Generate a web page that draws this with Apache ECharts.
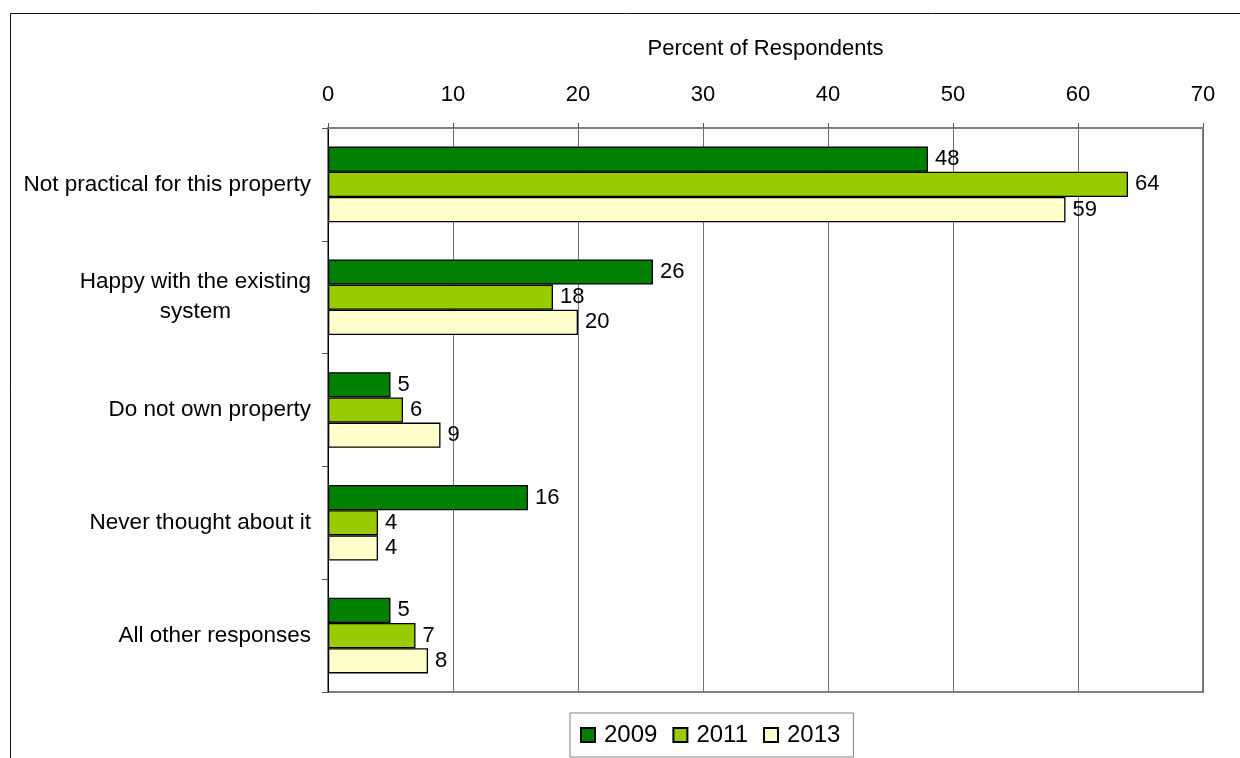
<!DOCTYPE html>
<html>
<head>
<meta charset="utf-8">
<script src="https://cdn.jsdelivr.net/npm/echarts@6/dist/echarts.min.js"></script>
<style>
  html, body { margin: 0; padding: 0; background: #fff; overflow: hidden; }
  #chart { width: 1240px; height: 758px; }
</style>
</head>
<body>
<div id="chart"></div>
<script>
// Reasons given, top to bottom
const categories = [
  'Not practical for this property',
  'Happy with the existing\nsystem',
  'Do not own property',
  'Never thought about it',
  'All other responses'
];
// Percent of respondents per survey year
const values2009 = [48, 26, 5, 16, 5];
const values2011 = [64, 18, 6, 4, 7];
const values2013 = [59, 20, 9, 4, 8];
const years = ['2009', '2011', '2013'];
const axisTicks = [0, 10, 20, 30, 40, 50, 60, 70];

const FONT = '"Liberation Sans", Arial, sans-serif';
const colors = ['#008000', '#99CC00', '#FFFFCC'];

const chart = echarts.init(document.getElementById('chart'), null, { renderer: 'canvas' });

function barSeries(name, data, color) {
  return {
    name: name,
    type: 'bar',
    data: data,
    barGap: '0%',
    barCategoryGap: '33%',
    itemStyle: { color: color, borderColor: '#000', borderWidth: 1.3 },
    label: {
      show: true,
      position: 'right',
      distance: 7,
      color: '#000',
      fontFamily: FONT,
      fontSize: 22
    },
    animation: false
  };
}

chart.setOption({
  backgroundColor: '#fff',
  animation: false,
  graphic: [
    // chart frame (left and top edges)
    { type: 'line', shape: { x1: 10.5, y1: 13.5, x2: 1240, y2: 13.5 }, style: { stroke: '#111', lineWidth: 1 } },
    { type: 'line', shape: { x1: 10.5, y1: 13.5, x2: 10.5, y2: 758 }, style: { stroke: '#111', lineWidth: 1 } }
  ],
  grid: {
    left: 328, top: 128, right: 37, bottom: 66,
    show: true,
    borderColor: '#808080',
    borderWidth: 2,
    backgroundColor: '#fff'
  },
  legend: {
    data: years,
    left: 570,
    top: 713,
    orient: 'horizontal',
    itemWidth: 14,
    itemHeight: 14,
    itemGap: 15,
    icon: 'rect',
    borderColor: '#808080',
    borderWidth: 1,
    padding: [10, 13, 10, 10],
    textStyle: { fontFamily: FONT, fontSize: 24, color: '#000', padding: [0, 0, 0, 4] }
  },
  xAxis: {
    type: 'value',
    position: 'top',
    min: 0,
    max: 70,
    interval: 10,
    name: 'Percent of Respondents',
    nameLocation: 'middle',
    nameGap: 68,
    nameTextStyle: { fontFamily: FONT, fontSize: 22, color: '#000' },
    axisLine: { show: true, lineStyle: { color: '#808080', width: 2 } },
    axisTick: { show: true, length: 5, lineStyle: { color: '#555' } },
    axisLabel: {
      fontFamily: FONT, fontSize: 22, color: '#000', margin: 22,
      formatter: function (v) { return axisTicks.indexOf(v) >= 0 ? String(v) : ''; }
    },
    splitLine: { show: true, lineStyle: { color: '#707070', width: 1 } }
  },
  yAxis: {
    type: 'category',
    data: categories,
    inverse: true,
    axisLine: { show: true, lineStyle: { color: '#000', width: 1 } },
    axisTick: { show: true, length: 6, inside: false, lineStyle: { color: '#555' } },
    axisLabel: {
      fontFamily: FONT, fontSize: 22.5, color: '#000', margin: 17,
      formatter: function (v) {
        return v.split('\n').map(function (s) { return '{c|' + s + '}'; }).join('\n');
      },
      rich: {
        c: { fontFamily: FONT, fontSize: 22.5, color: '#000', align: 'center', lineHeight: 30 }
      }
    },
    splitLine: { show: false }
  },
  series: [
    barSeries(years[0], values2009, colors[0]),
    barSeries(years[1], values2011, colors[1]),
    barSeries(years[2], values2013, colors[2])
  ]
});
</script>
</body>
</html>
